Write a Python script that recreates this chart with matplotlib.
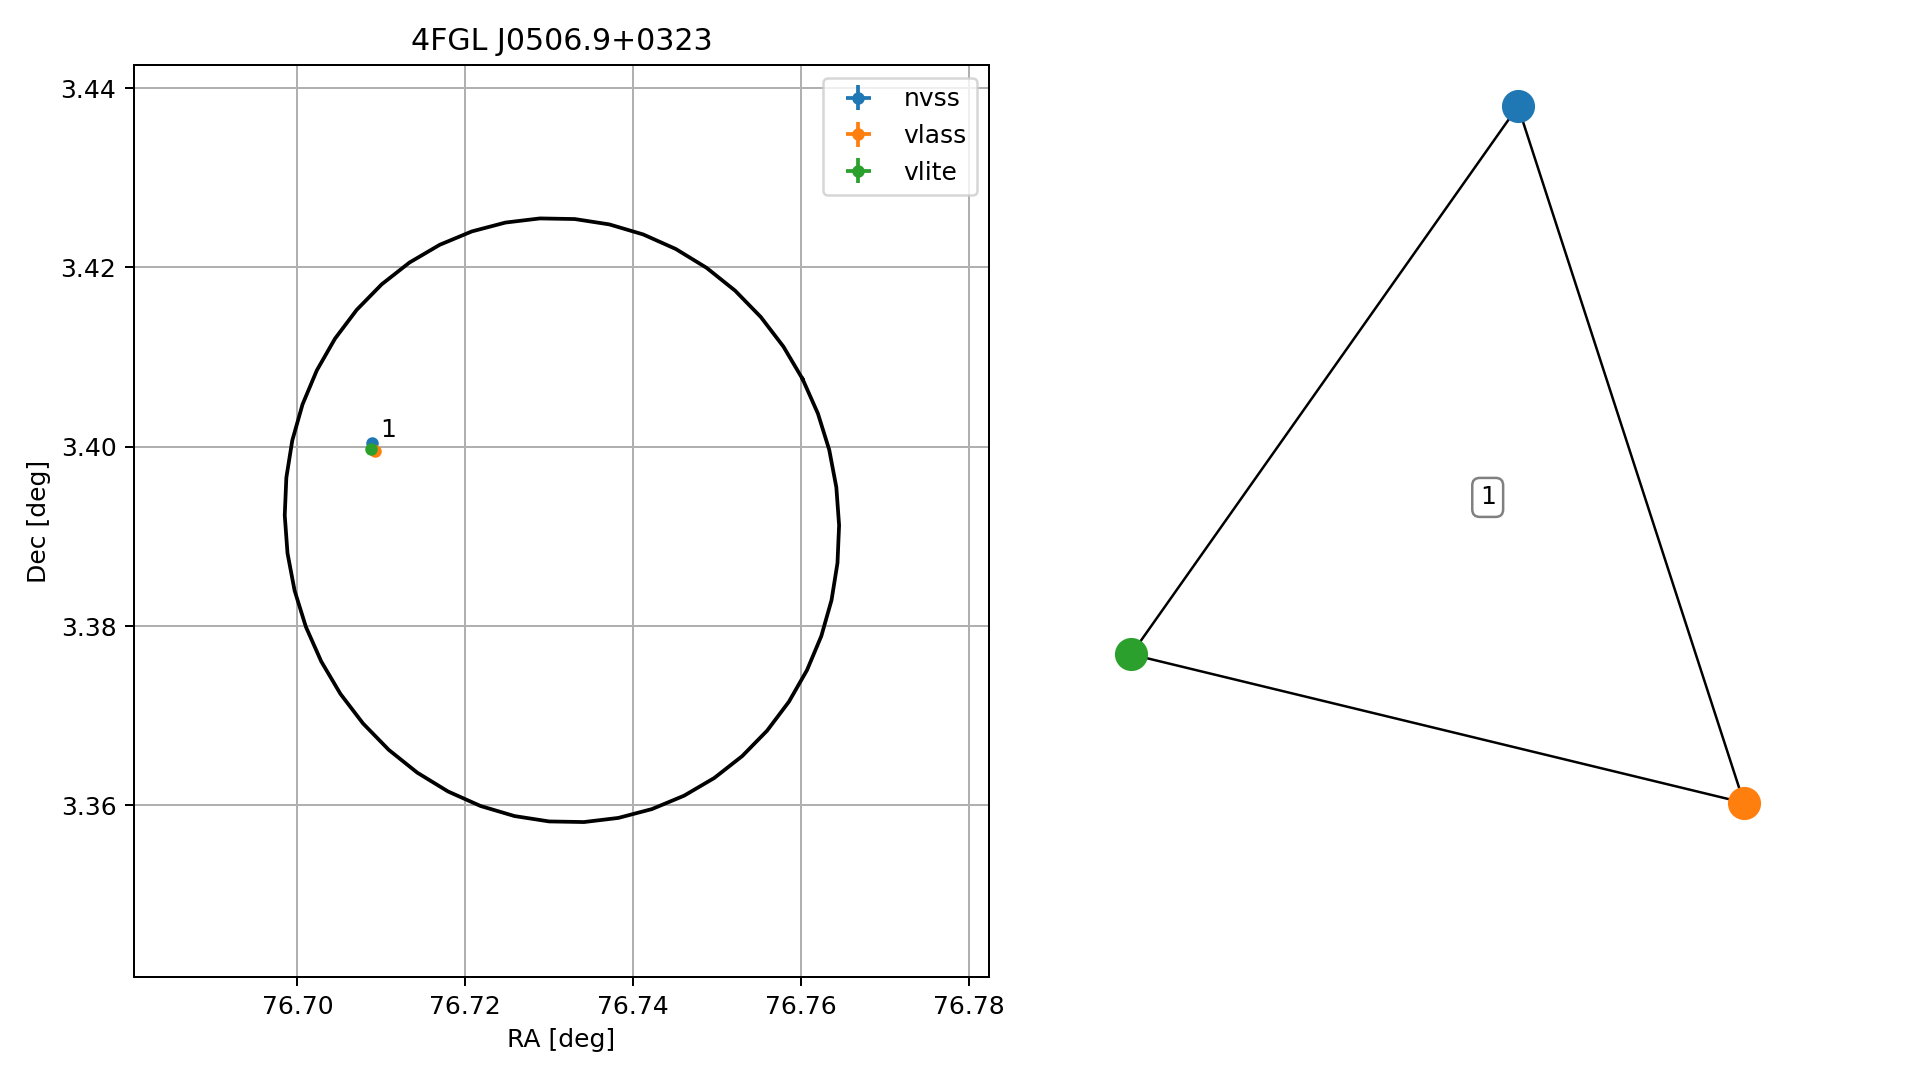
import numpy as np
from matplotlib import pyplot as plt

# radio sources matched inside the 4FGL error ellipse
surveys = ['nvss', 'vlass', 'vlite']
colors = ['tab:blue', 'tab:orange', 'tab:green']
ra = [76.70885, 76.70924, 76.70876]
dec = [3.40038, 3.39955, 3.39974]
ra_err = [0.00008, 0.00006, 0.00008]
dec_err = [0.00008, 0.00006, 0.00008]

# group label
group_label = '1'
group_label_pos = (76.70983, 3.40105)

# fermi ellipse: center, semi-major, semi-minor, angle (deg, from north to east)
src_name = '4FGL J0506.9+0323'
ell_ra, ell_dec = 76.7315, 3.3918
ell_a, ell_b, ell_ang = 0.0340, 0.0327, 28.8
n_vert = 51

xlim = (76.68055, 76.78235)
ylim = (3.34085, 3.44258)

# match graph (layout coordinates)
node_pos = {'nvss': (0.2294, 0.9553), 'vlass': (0.8941, -0.9529), 'vlite': (-0.9082, -0.5463)}
edges = [('nvss', 'vlite'), ('nvss', 'vlass'), ('vlite', 'vlass')]
edge_label_pos = (0.1403, -0.1162)

fig = plt.figure(figsize=(1919 / 180, 1080 / 180), dpi=180)

ax = fig.add_axes([134 / 1919, 1 - 977 / 1080, 855 / 1919, 912 / 1080])
t = np.linspace(0, 2 * np.pi, n_vert)
phi = np.radians(ell_ang)
ex = ell_ra + ell_b * np.cos(t) * np.cos(phi) - ell_a * np.sin(t) * np.sin(phi)
ey = ell_dec + ell_b * np.cos(t) * np.sin(phi) + ell_a * np.sin(t) * np.cos(phi)
ax.plot(ex, ey, color='k', lw=1.5)

for i in range(len(surveys)):
    ax.errorbar(ra[i], dec[i], xerr=ra_err[i], yerr=dec_err[i], fmt='o', ms=4,
                color=colors[i], label=surveys[i])
ax.text(group_label_pos[0], group_label_pos[1], group_label)

ax.set_xlim(xlim)
ax.set_ylim(ylim)
ax.set_xticks([76.70, 76.72, 76.74, 76.76, 76.78])
ax.set_yticks([3.36, 3.38, 3.40, 3.42, 3.44])
ax.set_xlabel('RA [deg]')
ax.set_ylabel('Dec [deg]')
ax.set_title(src_name)
ax.grid(True)
ax.legend(loc='upper right')

ax2 = fig.add_axes([1100 / 1919, 1 - 820 / 1080, 680 / 1919, 730 / 1080])
for a, b in edges:
    ax2.plot([node_pos[a][0], node_pos[b][0]], [node_pos[a][1], node_pos[b][1]],
             color='k', lw=1, zorder=1)
for i, s in enumerate(surveys):
    ax2.scatter(node_pos[s][0], node_pos[s][1], s=150, color=colors[i], zorder=2)
ax2.text(edge_label_pos[0], edge_label_pos[1], group_label, ha='center', va='center',
         bbox=dict(boxstyle='round', ec='gray', fc='white'))
ax2.set_xlim(-1, 1)
ax2.set_ylim(-1, 1)
ax2.axis('off')

plt.savefig('out.png', dpi=180)
